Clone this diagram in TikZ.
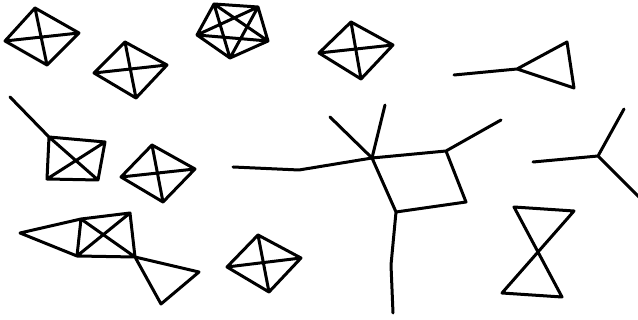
\documentclass[tikz,border=0pt]{standalone}
\begin{document}
\begin{tikzpicture}[x=1pt,y=-1pt,edge/.style={draw=black,line width=3pt,line cap=round,line join=round}]
\useasboundingbox (0,0) rectangle (638,320);
% K4 #1
\coordinate (a1) at (35,8); \coordinate (a2) at (79,33); \coordinate (a3) at (47,65); \coordinate (a4) at (5,41);
\draw[edge] (a1)--(a2)--(a3)--(a4)--cycle (a1)--(a3) (a2)--(a4);
% K4 #2
\coordinate (b1) at (125,42); \coordinate (b2) at (167,65); \coordinate (b3) at (136,98); \coordinate (b4) at (94,73);
\draw[edge] (b1)--(b2)--(b3)--(b4)--cycle (b1)--(b3) (b2)--(b4);
% K5
\coordinate (c1) at (214,4); \coordinate (c2) at (258,7); \coordinate (c3) at (268,41); \coordinate (c4) at (230,58); \coordinate (c5) at (197,35);
\draw[edge] (c1)--(c2)--(c3)--(c4)--(c5)--cycle (c1)--(c3)--(c5)--(c2)--(c4)--(c1);
% K4 #3
\coordinate (d1) at (351,22); \coordinate (d2) at (393,45); \coordinate (d3) at (361,79); \coordinate (d4) at (319,53);
\draw[edge] (d1)--(d2)--(d3)--(d4)--cycle (d1)--(d3) (d2)--(d4);
% triangle with tail
\coordinate (e0) at (454,75); \coordinate (e1) at (517,69); \coordinate (e2) at (567,42); \coordinate (e3) at (574,88);
\draw[edge] (e0)--(e1) (e1)--(e2)--(e3)--cycle;
% square with diagonals and tail
\coordinate (f0) at (10,97); \coordinate (f1) at (49,137); \coordinate (f2) at (105,142); \coordinate (f3) at (98,180); \coordinate (f4) at (47,179);
\draw[edge] (f0)--(f1) (f1)--(f2)--(f3)--(f4)--cycle (f1)--(f3) (f2)--(f4);
% K4 #4
\coordinate (g1) at (152,145); \coordinate (g2) at (195,169); \coordinate (g3) at (163,202); \coordinate (g4) at (121,177);
\draw[edge] (g1)--(g2)--(g3)--(g4)--cycle (g1)--(g3) (g2)--(g4);
% central tree with square
\coordinate (h0) at (233,167); \coordinate (h1) at (299,170); \coordinate (h2) at (372,158);
\coordinate (h3) at (330,117); \coordinate (h4) at (385,105);
\coordinate (h5) at (446,151); \coordinate (h6) at (466,202); \coordinate (h7) at (396,212);
\coordinate (h8) at (501,120); \coordinate (h9) at (391,265); \coordinate (h10) at (393,313);
\draw[edge] (h0)--(h1)--(h2) (h2)--(h3) (h2)--(h4) (h2)--(h5)--(h6)--(h7)--cycle (h5)--(h8) (h7)--(h9)--(h10);
% star
\coordinate (s0) at (598,156); \coordinate (s1) at (533,162); \coordinate (s2) at (624,109); \coordinate (s3) at (640,198);
\draw[edge] (s0)--(s1) (s0)--(s2) (s0)--(s3);
% bowtie vertical
\coordinate (t1) at (514,207); \coordinate (t2) at (574,211); \coordinate (t3) at (502,293); \coordinate (t4) at (562,297);
\draw[edge] (t1)--(t2)--(t3)--(t4)--cycle;
% K4 #5
\coordinate (k1) at (258,235); \coordinate (k2) at (301,258); \coordinate (k3) at (269,292); \coordinate (k4) at (227,267);
\draw[edge] (k1)--(k2)--(k3)--(k4)--cycle (k1)--(k3) (k2)--(k4);
% bottom-left composite
\coordinate (m0) at (20,233); \coordinate (m1) at (81,219); \coordinate (m2) at (130,213); \coordinate (m3) at (135,257); \coordinate (m4) at (77,256);
\coordinate (m5) at (199,272); \coordinate (m6) at (161,304);
\draw[edge] (m0)--(m1)--(m4)--cycle (m1)--(m2)--(m3)--(m4) (m1)--(m3) (m2)--(m4) (m3)--(m5)--(m6)--cycle;
\end{tikzpicture}
\end{document}
